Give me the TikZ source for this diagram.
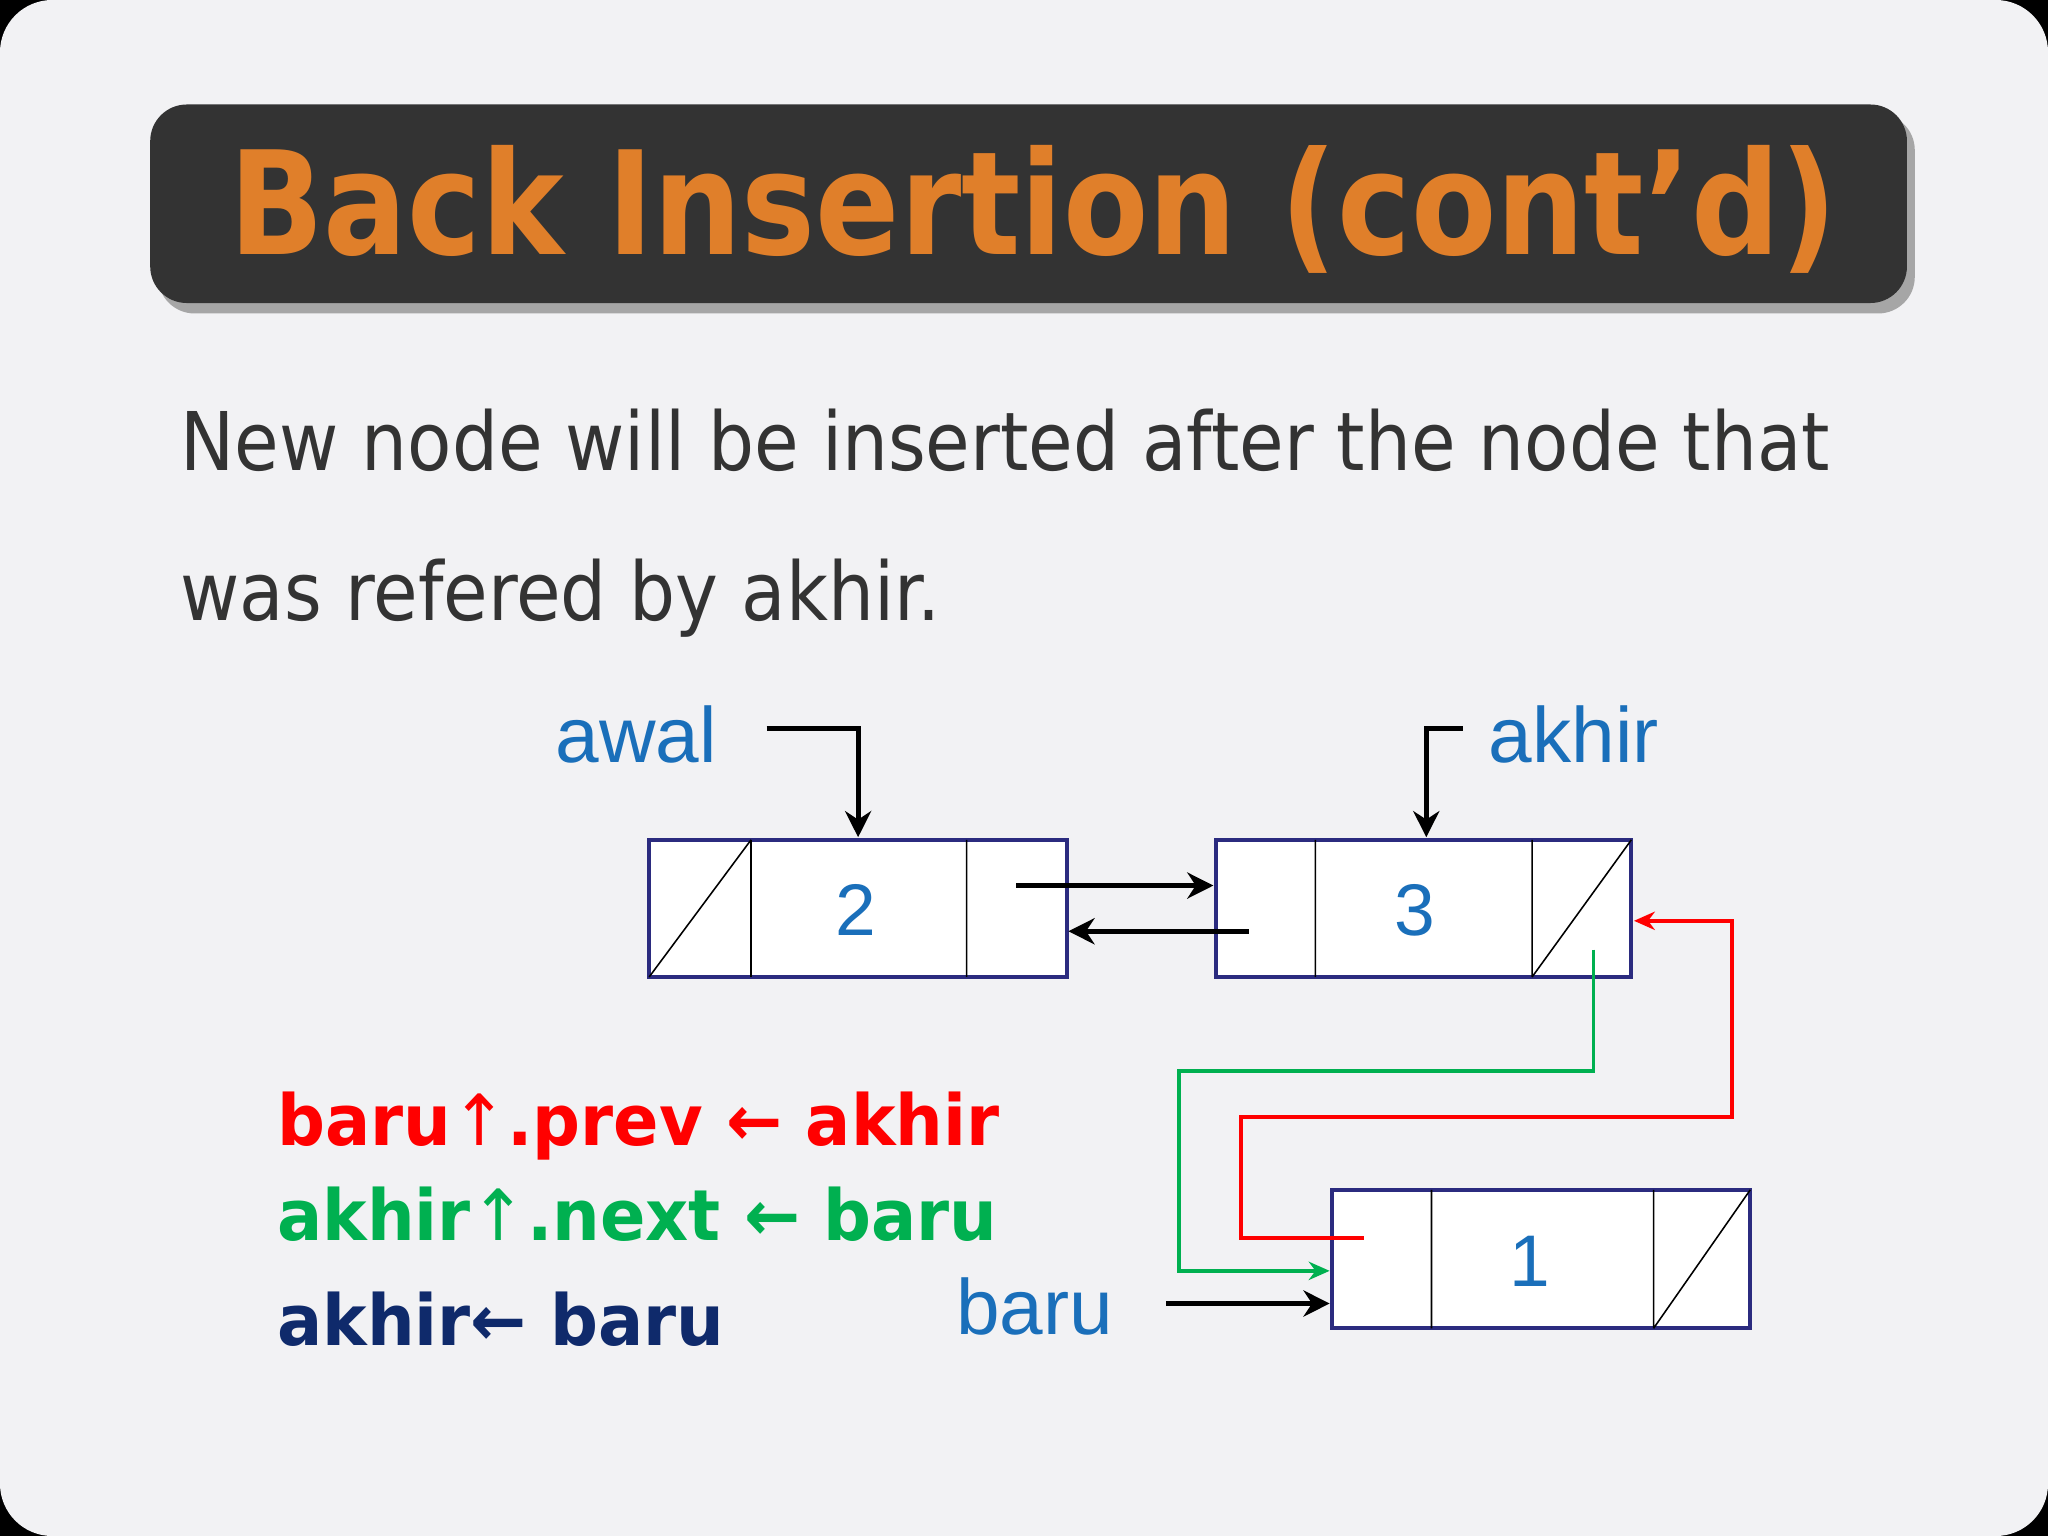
\documentclass[tikz,border=0pt]{standalone}
\usepackage{fontspec}
\setmainfont{DejaVu Sans}
\newfontfamily\lab{Liberation Sans}
\newfontfamily\bod{DejaVu Sans}
\usetikzlibrary{arrows.meta,shadows}
\definecolor{bg}{HTML}{F2F2F4}
\definecolor{bar}{HTML}{333333}
\definecolor{ttl}{HTML}{E07F2A}
\definecolor{bodc}{HTML}{333333}
\definecolor{boxc}{HTML}{2B2B7F}
\definecolor{lblue}{HTML}{1A6FBA}
\definecolor{rd}{HTML}{FF0000}
\definecolor{gr}{HTML}{00B050}
\definecolor{nv}{HTML}{0F2A6B}
\tikzset{
  cell/.style={draw=boxc,line width=1.5pt,fill=white},
  thin/.style={line width=0.6pt},
  ptr/.style={line width=2pt,-{Stealth[length=10pt,width=10pt]}},
  lbl/.style={text=lblue,font=\lab\fontsize{30}{36}\selectfont},
  dig/.style={text=lblue,font=\lab\fontsize{28}{34}\selectfont},
  code/.style={anchor=base west,inner sep=0,font=\bfseries\fontsize{27}{32}\selectfont,xscale=0.95},
  body/.style={anchor=base west,inner sep=0,text=bodc,font=\bod\fontsize{31}{36}\selectfont,xscale=0.895},
}
\begin{document}
\begin{tikzpicture}[x=0.5pt,y=-0.5pt]
\fill[black] (0,0) rectangle (1568,1176);
\fill[bg,rounded corners=20pt] (0,0) rectangle (1568,1176);
\useasboundingbox (0,0) rectangle (1568,1176);
\fill[black!35,rounded corners=14pt] (121,87) rectangle (1466,240);
\fill[bar,rounded corners=14pt] (115,80) rectangle (1460,232);
\node[text=ttl,font=\bfseries\fontsize{55}{60}\selectfont,xscale=0.865] (title) at (791,160) {Back Insertion (cont’d)};
\node[body] (b1) at (138,360) {New node will be inserted after the node that};
\node[body] (b2) at (138,475) {was refered by akhir.};
% box 2
\node[cell,minimum width=160pt,minimum height=52.5pt,inner sep=0] (n2) at (657,695.5) {};
\draw[thin] (575,643) -- (575,748) (740,643) -- (740,748) (497,748) -- (575,643);
\node[dig] at (655,697) {2};
% box 3
\node[cell,minimum width=159pt,minimum height=52.5pt,inner sep=0] (n3) at (1090,695.5) {};
\draw[thin] (1007,643) -- (1007,748) (1173,643) -- (1173,748) (1173,748) -- (1249,643);
\node[dig] at (1083,697) {3};
% box 1
\node[cell,minimum width=160pt,minimum height=53pt,inner sep=0] (n1) at (1180,964) {};
\draw[thin] (1096,911) -- (1096,1017) (1266,911) -- (1266,1017) (1266,1017) -- (1340,911);
\node[dig] at (1171,966) {1};
% labels
\node[lbl] (awal) at (487,562) {awal};
\node[lbl] (akhir) at (1205,562) {akhir};
\node[lbl] (baru) at (792,1000) {baru};
\coordinate (aw0) at (587,558);
\coordinate (ak0) at (1120,558);
\coordinate (ba0) at (893,998);
\draw[ptr] (aw0) -- (657,558) -- (657,641);
\draw[ptr] (ak0) -- (1092,558) -- (1092,641);
\draw[ptr] (ba0) -- (1018,998);
\coordinate (n2s) at (778,678);
\coordinate (n3s) at (956,713);
\draw[ptr] (n2s) -- (929,678);
\draw[ptr] (n3s) -- (818,713);
\draw[gr,line width=1.5pt,-{Stealth[length=8pt,width=7pt]}] (1220,727) -- (1220,820) -- (903,820) -- (903,973) -- (1018,973);
\draw[rd,line width=1.5pt,-{Stealth[length=8pt,width=7pt]}] (1044,948) -- (950,948) -- (950,855) -- (1326,855) -- (1326,705) -- (1251,705);
% code
\node[code,text=rd] (c1) at (212,877) {baru\textmd{↑}.prev ← akhir};
\node[code,text=gr] (c2) at (212,950) {akhir\textmd{↑}.next ← baru};
\node[code,text=nv] (c3) at (212,1030) {akhir← baru};
\end{tikzpicture}
\end{document}
